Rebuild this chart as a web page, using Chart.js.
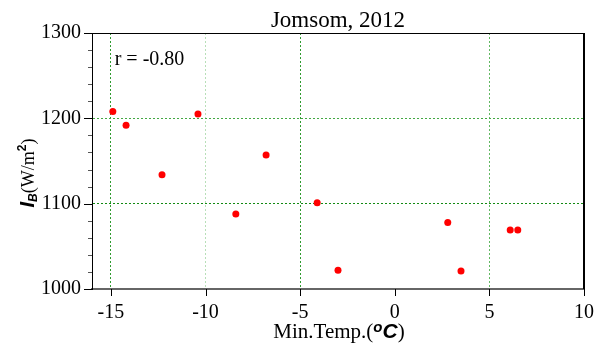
<!DOCTYPE html>
<html>
<head>
<meta charset="utf-8">
<title>Jomsom, 2012</title>
<script src="https://cdn.jsdelivr.net/npm/chart.js@4"></script>
<style>
  html, body { margin: 0; padding: 0; background: #fff; }
  #wrap { width: 601px; height: 346px; }
</style>
</head>
<body>
<div id="wrap"><canvas id="c" width="601" height="346"></canvas></div>
<script>
// Minimum temperature (°C) against broadband irradiance I_B (W/m²), one point per month
const minTemp = [-14.9, -14.2, -12.3, -10.4, -8.4, -6.8, -4.1, -3.0, 2.8, 3.5, 6.1, 6.5];
const irradiance = [1208, 1192, 1134, 1205, 1088, 1157, 1101, 1022, 1078, 1021, 1069, 1069];
const xTicks = [-15, -10, -5, 0, 5, 10];
const yTicks = [1000, 1100, 1200, 1300];
const yMinorStep = 20;
const titleText = 'Jomsom, 2012';
const corrText = 'r = -0.80';

const SERIF = "'Liberation Serif', 'Times New Roman', serif";
const SANS = "'Liberation Sans', Arial, sans-serif";

const points = minTemp.map((t, i) => ({ x: t, y: irradiance[i] }));

// Colours of the dotted grid lines, keyed by tick value
const xGridColor = { '-15': '#2f9a2f', '-10': '#b8dfb8', '-5': '#2f9a2f', '5': '#62b862' };
const yGridColor = { '1200': '#43a843', '1100': '#138a13' };

// Draws the segments of a mixed-style label centred at the origin
function drawRuns(ctx, runs) {
  let total = 0;
  runs.forEach(r => { ctx.font = r.font; r.w = ctx.measureText(r.text).width; total += r.w; });
  let x = -total / 2;
  ctx.textBaseline = 'alphabetic';
  ctx.textAlign = 'left';
  runs.forEach(r => {
    ctx.font = r.font;
    ctx.fillText(r.text, x, r.dy || 0);
    x += r.w;
  });
}

const decor = {
  id: 'decor',
  afterDraw(chart) {
    const { ctx, chartArea: a, scales: { x, y } } = chart;
    ctx.save();
    ctx.fillStyle = '#000';
    ctx.strokeStyle = '#000';

    // top and right frame
    ctx.lineWidth = 1;
    ctx.beginPath();
    ctx.moveTo(a.left, a.top + 0.5);
    ctx.lineTo(a.right, a.top + 0.5);
    ctx.stroke();
    ctx.lineWidth = 2;
    ctx.beginPath();
    ctx.moveTo(a.right, a.top);
    ctx.lineTo(a.right, a.bottom);
    ctx.stroke();

    // y tick marks, major and minor, outside the axis
    ctx.lineWidth = 1;
    for (let v = y.min; v <= y.max; v += yMinorStep) {
      const py = Math.round(y.getPixelForValue(v)) + 0.5;
      const major = yTicks.includes(v);
      ctx.strokeStyle = major ? '#000' : '#555';
      ctx.beginPath();
      ctx.moveTo(a.left - (major ? 8 : 4), py);
      ctx.lineTo(a.left, py);
      ctx.stroke();
    }
    // x tick marks below the axis
    ctx.strokeStyle = '#000';
    xTicks.forEach(v => {
      const px = Math.round(x.getPixelForValue(v)) + 0.5;
      ctx.beginPath();
      ctx.moveTo(px, a.bottom);
      ctx.lineTo(px, a.bottom + 7);
      ctx.stroke();
    });

    // correlation note
    ctx.font = '20px ' + SERIF;
    ctx.textAlign = 'left';
    ctx.textBaseline = 'alphabetic';
    ctx.fillText(corrText, x.getPixelForValue(-14.8), y.getPixelForValue(1262));

    // x axis title
    ctx.save();
    ctx.translate((a.left + a.right) / 2 + 1, 338);
    drawRuns(ctx, [
      { text: 'Min.Temp.(', font: '21px ' + SERIF },
      { text: 'o', font: 'italic bold 15px ' + SANS, dy: -6 },
      { text: 'C', font: 'italic bold 21px ' + SANS },
      { text: ')', font: '21px ' + SERIF }
    ]);
    ctx.restore();

    // y axis title, rotated
    ctx.save();
    ctx.translate(34, 173);
    ctx.rotate(-Math.PI / 2);
    drawRuns(ctx, [
      { text: 'I', font: 'italic bold 20px ' + SANS },
      { text: 'B', font: 'italic bold 12px ' + SANS, dy: 3 },
      { text: '(W/m', font: '18px ' + SERIF },
      { text: '2', font: 'bold 12px ' + SANS, dy: -8 },
      { text: ')', font: '18px ' + SERIF }
    ]);
    ctx.restore();

    ctx.restore();
  }
};

new Chart(document.getElementById('c'), {
  type: 'scatter',
  data: {
    datasets: [{
      data: points,
      backgroundColor: '#ff0000',
      borderColor: '#ff0000',
      pointRadius: 3.5,
      pointHoverRadius: 3.5,
      borderWidth: 0
    }]
  },
  options: {
    responsive: false,
    animation: false,
    layout: { padding: { left: 0, right: 17, top: 0, bottom: 0 } },
    plugins: {
      legend: { display: false },
      tooltip: { enabled: false },
      title: {
        display: true,
        text: titleText,
        fullSize: false,
        color: '#000',
        font: { family: SERIF, size: 23, weight: 'normal', lineHeight: 1 },
        padding: { top: 9, bottom: 1 }
      }
    },
    scales: {
      x: {
        type: 'linear',
        min: -16,
        max: 10,
        afterBuildTicks: s => { s.ticks = xTicks.map(v => ({ value: v })); },
        afterFit: s => { s.height = 57; s.paddingLeft = 0; s.paddingRight = 0; },
        border: { display: true, color: '#666', width: 2, dash: [2, 2] },
        grid: {
          drawTicks: false,
          lineWidth: 1,
          color: c => xGridColor[String(c.tick && c.tick.value)] || 'rgba(0,0,0,0)'
        },
        ticks: {
          color: '#000',
          font: { family: SERIF, size: 20 },
          padding: 12,
          maxRotation: 0,
          callback: v => String(v)
        }
      },
      y: {
        type: 'linear',
        min: 1000,
        max: 1300,
        afterBuildTicks: s => { s.ticks = yTicks.map(v => ({ value: v })); },
        afterFit: s => { s.width = 92; },
        border: { display: true, color: '#000', width: 1, dash: [2, 2] },
        grid: {
          drawTicks: false,
          lineWidth: 1,
          color: c => yGridColor[String(c.tick && c.tick.value)] || 'rgba(0,0,0,0)'
        },
        ticks: {
          color: '#000',
          font: { family: SERIF, size: 20 },
          padding: 11,
          callback: v => String(v)
        }
      }
    }
  },
  plugins: [decor]
});
</script>
</body>
</html>
